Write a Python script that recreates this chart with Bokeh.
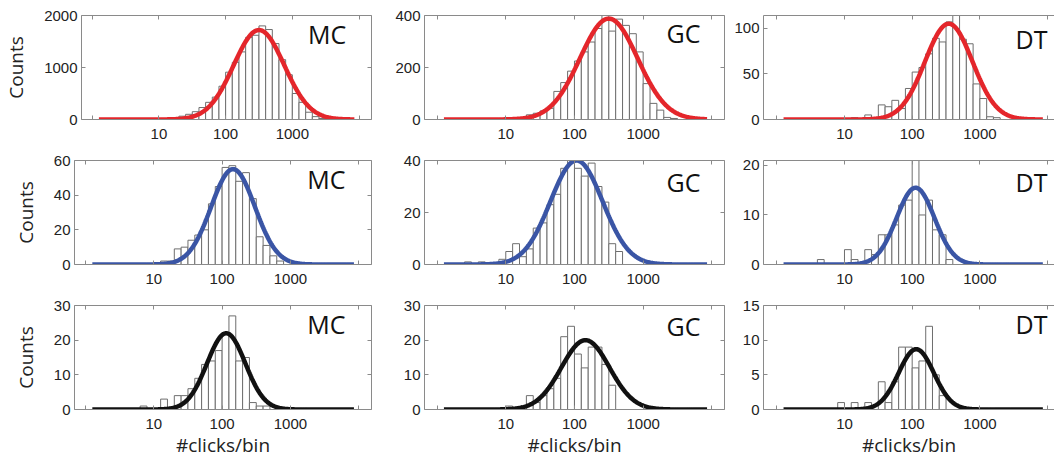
import numpy as np
from bokeh.plotting import figure
from bokeh.models import (Range1d, FixedTicker, LinearAxis, LogAxis,
                          NumeralTickFormatter, CustomJSTickFormatter, Label)
from bokeh.layouts import column, row
from bokeh.embed import file_html
from bokeh.resources import INLINE

# ---------------- data ----------------
region_names = ["MC", "GC", "DT"]
x_tick_labels = [10, 100, 1000]
x_unlabelled_ticks = [1, 10000]
bin_width_decades = 0.1
x_label = "#clicks/bin"
y_label = "Counts"

# row 1 (red)
mc1_start = 1.2
mc1_counts = [20, 64, 100, 150, 230, 330, 430, 640, 910, 1100, 1300, 1580,
              1620, 1800, 1730, 1460, 1150, 860, 500, 330, 140, 55, 20]
gc1_start = 1.3
gc1_counts = [18, 24, 33, 43, 108, 142, 186, 225, 260, 298, 350, 400,
              340, 386, 362, 330, 260, 138, 62, 36, 8, 4]
dt1_start = 1.1
dt1_counts = [2, 0, 5, 0, 16, 14, 21, 12, 34, 52, 57, 72, 89, 85, 107, 118,
              88, 83, 39, 23, 3, 2]

# row 2 (blue)
mc2_start = 1.0
mc2_counts = [1, 2, 2, 9, 10, 14, 17, 20, 35, 45, 56, 57, 48, 53, 38, 16, 11, 5, 2]
gc2_start = 0.4
gc2_counts = [1, 0, 1, 0, 0, 2, 5, 8, 3, 6, 14, 16, 23, 27, 37, 40, 37, 34,
              39, 30, 24, 8, 5]
dt2_start = 0.6
dt2_counts = [1, 0, 0, 0, 3, 1, 0, 3, 2, 6, 6, 8, 12, 13, 22, 10, 13, 7, 6, 1]

# row 3 (black)
mc3_start = 0.8
mc3_counts = [1, 0, 0, 3, 0, 4, 4, 6, 9, 13, 14, 17, 22, 27, 14, 15, 2, 1, 1]
gc3_start = 1.0
gc3_counts = [1, 0, 0, 4, 2, 4, 6, 9, 21, 24, 16, 12, 18, 18, 13, 7]
dt3_start = 0.9
dt3_counts = [1, 0, 1, 0, 1, 0, 4, 1, 4, 9, 9, 6, 7, 12, 5, 2]

# Gaussian fits in log10(x): (amplitude, centre, sigma)
mc1_fit = (1720, 2.50, 0.38)
gc1_fit = (388, 2.50, 0.42)
dt1_fit = (105, 2.54, 0.35)
mc2_fit = (55, 2.16, 0.32)
gc2_fit = (40, 2.03, 0.38)
dt2_fit = (15.5, 2.05, 0.28)
mc3_fit = (22, 2.06, 0.28)
gc3_fit = (20, 2.16, 0.35)
dt3_fit = (8.7, 2.06, 0.26)
fit_log_span = (0.1, 3.93)

# axis extents and ticks
y_max = [[2000, 400, 114], [60, 40, 21], [30, 30, 15]]
y_ticks = [[[0, 1000, 2000], [0, 200, 400], [0, 50, 100]],
           [[0, 20, 40, 60], [0, 20, 40], [0, 10, 20]],
           [[0, 10, 20, 30], [0, 10, 20, 30], [0, 5, 10, 15]]]

# ---------------- styling / layout ----------------
row_colors = ["#e4262b", "#3a55a5", "#111111"]
AX = "#8a8a8a"
TXT = "#222222"
TICK_FONT = "Liberation Sans"
LAB_FONT = "Open Sans"

col_width = [381, 349, 324]
col_border = [(74, 10), (43, 6), (33, 0)]          # left, right
col_xrange = [(-0.161, 4.187), (-0.183, 4.184), (-0.196, 4.102)]
col_px_per_decade = [68.3, 68.7, 67.7]
row_height = [149, 145, 166]
row_border = [(15, 30), (11, 30), (11, 51)]         # top, bottom
frame_h = 104
label_right_px = [271, 276, 284]
label_base_px = [[18, 17, 23], [18, 21, 21], [18, 20, 18]]

counts = [[mc1_counts, gc1_counts, dt1_counts],
          [mc2_counts, gc2_counts, dt2_counts],
          [mc3_counts, gc3_counts, dt3_counts]]
starts = [[mc1_start, gc1_start, dt1_start],
          [mc2_start, gc2_start, dt2_start],
          [mc3_start, gc3_start, dt3_start]]
fits = [[mc1_fit, gc1_fit, dt1_fit],
        [mc2_fit, gc2_fit, dt2_fit],
        [mc3_fit, gc3_fit, dt3_fit]]

blank = CustomJSTickFormatter(code="return ''")


def style_axis(ax, show_labels):
    ax.axis_line_color = AX
    ax.axis_line_width = 1
    ax.major_tick_line_color = AX
    ax.minor_tick_line_color = AX
    ax.major_tick_in = 4
    ax.major_tick_out = 0
    ax.minor_tick_in = 4
    ax.minor_tick_out = 0
    if show_labels:
        ax.major_label_text_font = TICK_FONT
        ax.major_label_text_font_size = "15px"
        ax.major_label_text_color = TXT
    else:
        ax.major_label_text_font_size = "0px"
        ax.major_label_standoff = 0


def panel(r, c):
    xs, xe = col_xrange[c]
    ymax = y_max[r][c]
    bl, br = col_border[c]
    bt, bb = row_border[r]
    p = figure(width=col_width[c], height=row_height[r], x_axis_type="log",
               x_range=Range1d(10 ** xs, 10 ** xe), y_range=Range1d(0, ymax),
               output_backend="svg", toolbar_location=None,
               min_border_left=bl, min_border_right=br,
               min_border_top=bt, min_border_bottom=bb)
    p.grid.visible = False
    p.outline_line_color = None
    p.background_fill_color = "white"
    p.border_fill_color = "white"

    # histogram
    cnt = np.array(counts[r][c], dtype=float)
    lo = starts[r][c] + bin_width_decades * np.arange(len(cnt))
    keep = cnt > 0
    p.quad(left=10 ** lo[keep], right=10 ** (lo[keep] + bin_width_decades),
           bottom=0, top=cnt[keep], fill_color="white", line_color="#6e6e6e",
           line_width=1)

    # gaussian fit
    A, mu, sg = fits[r][c]
    lx = np.linspace(fit_log_span[0], fit_log_span[1], 300)
    p.line(10 ** lx, A * np.exp(-0.5 * ((lx - mu) / sg) ** 2),
           line_color=row_colors[r], line_width=4.5)

    # bottom axis
    xt = FixedTicker(ticks=x_tick_labels, minor_ticks=x_unlabelled_ticks)
    xa = p.xaxis[0]
    xa.ticker = xt
    xa.formatter = NumeralTickFormatter(format="0")
    style_axis(xa, True)
    xa.major_label_standoff = 9
    if r == 2:
        xa.axis_label = x_label
        xa.axis_label_text_font = LAB_FONT
        xa.axis_label_text_font_size = "19px"
        xa.axis_label_text_font_style = "normal"
        xa.axis_label_text_color = TXT
        xa.axis_label_standoff = 0

    # left axis
    ya = p.yaxis[0]
    ya.ticker = FixedTicker(ticks=y_ticks[r][c], minor_ticks=[])
    style_axis(ya, True)
    ya.major_label_standoff = 4
    if c == 0:
        ya.axis_label = y_label
        ya.axis_label_text_font = LAB_FONT
        ya.axis_label_text_font_size = "19px"
        ya.axis_label_text_font_style = "normal"
        ya.axis_label_text_color = TXT
        ya.axis_label_standoff = 12

    # top axis (ticks only)
    ta = LogAxis(ticker=FixedTicker(ticks=x_tick_labels, minor_ticks=x_unlabelled_ticks),
                 formatter=blank)
    style_axis(ta, False)
    p.add_layout(ta, "above")

    # right axis (ticks only), off the picture for the last column
    if c < 2:
        ra = LinearAxis(ticker=FixedTicker(ticks=y_ticks[r][c], minor_ticks=[]),
                        formatter=blank)
        style_axis(ra, False)
        p.add_layout(ra, "right")

    # region label
    lx_data = 10 ** (xs + label_right_px[c] / col_px_per_decade[c])
    ly_data = ymax * (frame_h - label_base_px[r][c]) / frame_h
    p.add_layout(Label(x=lx_data, y=ly_data, text=region_names[c],
                       text_align="right", text_baseline="alphabetic",
                       text_font=LAB_FONT, text_font_size="25px",
                       text_color="#111111"))
    return p


rows = [row(*[panel(r, c) for c in range(3)]) for r in range(3)]
layout = column(*rows)

open("out.html", "w").write(file_html(layout, INLINE))
